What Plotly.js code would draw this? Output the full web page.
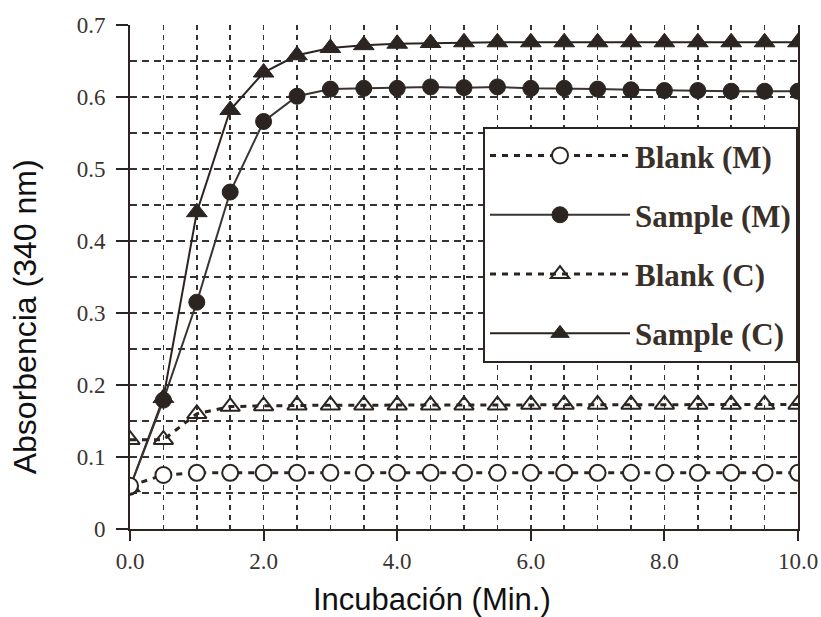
<!DOCTYPE html>
<html>
<head>
<meta charset="utf-8">
<script src="https://cdn.plot.ly/plotly-3.0.1.min.js"></script>
<style>html,body{margin:0;padding:0;background:#fff;}#chart{width:821px;height:617px;}</style>
</head>
<body>
<div id="chart"></div>
<script>
const time = [0,0.5,1,1.5,2,2.5,3,3.5,4,4.5,5,5.5,6,6.5,7,7.5,8,8.5,9,9.5,10];
const blankM = [0.060,0.075,0.078,0.078,0.078,0.078,0.078,0.078,0.078,0.078,0.078,0.078,0.078,0.078,0.078,0.078,0.078,0.078,0.078,0.078,0.078];
const sampleM = [0.058,0.179,0.315,0.468,0.566,0.601,0.611,0.612,0.612,0.614,0.613,0.614,0.612,0.612,0.611,0.610,0.609,0.609,0.608,0.608,0.608];
const blankC = [0.124,0.124,0.160,0.170,0.171,0.172,0.172,0.172,0.172,0.172,0.172,0.172,0.173,0.173,0.173,0.173,0.173,0.173,0.173,0.173,0.173];
const sampleC = [0.058,0.182,0.440,0.582,0.634,0.658,0.668,0.672,0.674,0.675,0.676,0.676,0.676,0.676,0.676,0.676,0.676,0.676,0.676,0.676,0.676];
const seriesNames = ['Blank (M)','Sample (M)','Blank (C)','Sample (C)'];
const yTickVals = [0,0.1,0.2,0.3,0.4,0.5,0.6,0.7];
const yTickText = ['0','0.1','0.2','0.3','0.4','0.5','0.6','0.7'];
const xTickVals = [0,2,4,6,8,10];
const xTickText = ['0.0','2.0','4.0','6.0','8.0','10.0'];
const xTitle = 'Incubación (Min.)';
const yTitle = 'Absorbencia (340 nm)';

const ink = '#2b2420';
const traces = [
  {x: time, y: sampleC, name: seriesNames[3], legendrank: 4, legendgroup: 'd', mode: 'lines+markers',
   line: {color: ink, width: 2}, marker: {symbol: 'triangle-up', size: 18, color: ink, line: {color: ink, width: 1}}},
  {x: time, y: sampleM, name: seriesNames[1], legendrank: 2, legendgroup: 'b', mode: 'lines+markers',
   line: {color: '#3a3430', width: 2}, marker: {symbol: 'circle', size: 16, color: ink, line: {color: ink, width: 1}}},
  {x: time, y: blankC, name: seriesNames[2], legendrank: 3, legendgroup: 'c', mode: 'lines+markers',
   line: {color: ink, width: 3, dash: '6px,6px'}, marker: {symbol: 'triangle-up-open', size: 17, color: ink, line: {color: ink, width: 2}}},
  {x: time, y: blankM, name: seriesNames[0], legendrank: 1, legendgroup: 'a', mode: 'lines+markers',
   line: {color: ink, width: 3, dash: '6px,6px'}, marker: {symbol: 'circle', size: 16, color: '#ffffff', line: {color: ink, width: 2}}}
];

const layout = {
  width: 821, height: 617,
  margin: {l: 130, r: 23, t: 25, b: 88},
  paper_bgcolor: '#ffffff', plot_bgcolor: '#ffffff',
  showlegend: true,
  legend: {
    x: 1, xanchor: 'right', y: 0.798, yanchor: 'top',
    bordercolor: ink, borderwidth: 2, bgcolor: '#ffffff',
    font: {family: 'Liberation Serif, serif', size: 31, color: '#3a302a', weight: 'bold'},
    tracegroupgap: 16, itemwidth: 140
  },
  xaxis: {
    range: [0, 10], tickvals: xTickVals, ticktext: xTickText,
    ticks: 'outside', ticklen: 10, tickwidth: 2, tickcolor: ink,
    showline: true, linecolor: ink, linewidth: 2, mirror: false,
    showgrid: true, gridcolor: '#333', gridwidth: 1.5, griddash: '5px,5px',
    minor: {dtick: 0.5, showgrid: true, gridcolor: '#333', gridwidth: 1.5, griddash: '5px,5px', ticks: ''},
    zeroline: false,
    tickfont: {family: 'Liberation Serif, serif', size: 23, color: '#3a3330'}
  },
  yaxis: {
    range: [0, 0.7], tickvals: yTickVals, ticktext: yTickText,
    ticks: 'outside', ticklen: 12, tickwidth: 2, tickcolor: ink,
    showline: true, linecolor: ink, linewidth: 2, mirror: true,
    showgrid: true, gridcolor: '#333', gridwidth: 1.5, griddash: '7px,5px',
    minor: {dtick: 0.05, showgrid: true, gridcolor: '#333', gridwidth: 1.5, griddash: '7px,5px', ticks: ''},
    zeroline: false, ticklabelstandoff: 6,
    tickfont: {family: 'Liberation Serif, serif', size: 23, color: '#3a3330'}
  },
  annotations: [
    {text: xTitle, xref: 'paper', yref: 'paper', x: 0.452, y: -0.14, xanchor: 'center', yanchor: 'middle',
     showarrow: false, font: {family: 'Liberation Sans, Arial, sans-serif', size: 31, color: '#111'}},
    {text: yTitle, xref: 'paper', yref: 'paper', x: -0.158, y: 0.421, xanchor: 'center', yanchor: 'middle',
     textangle: -90, showarrow: false, font: {family: 'Liberation Sans, Arial, sans-serif', size: 32, color: '#111'}}
  ]
};
Plotly.newPlot('chart', traces, layout, {displayModeBar: false, staticPlot: true});
</script>
</body>
</html>
